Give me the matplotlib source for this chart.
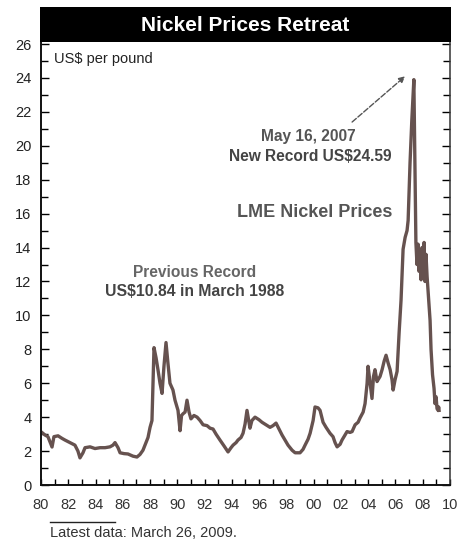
import matplotlib
matplotlib.use("Agg")
import matplotlib.pyplot as plt
from matplotlib.ticker import MultipleLocator, FixedLocator

plt.rcParams['font.family'] = ['Liberation Sans', 'DejaVu Sans']

# LME nickel price, US$ per pound (month-ish samples)
years = [
    1980.0, 1980.29, 1980.51, 1980.81, 1980.95, 1981.25, 1981.54, 1981.76, 1982.13, 1982.49,
    1982.71, 1982.86, 1983.08, 1983.23, 1983.6, 1983.96, 1984.33, 1984.7, 1985.06, 1985.28,
    1985.43, 1985.65, 1985.8, 1986.09, 1986.38, 1986.75, 1987.04, 1987.26, 1987.48, 1987.7,
    1987.85, 1988.0, 1988.14, 1988.22, 1988.29, 1988.44, 1988.58, 1988.73, 1988.88, 1989.02,
    1989.17, 1989.31, 1989.46, 1989.68, 1989.83, 1990.05, 1990.2, 1990.31, 1990.42, 1990.57,
    1990.71, 1990.86, 1991.0, 1991.22, 1991.45, 1991.67, 1991.89, 1992.18, 1992.4, 1992.62,
    1992.84, 1993.13, 1993.43, 1993.72, 1993.94, 1994.09, 1994.31, 1994.45, 1994.67, 1994.82,
    1994.97, 1995.11, 1995.33, 1995.47, 1995.7, 1995.99, 1996.21, 1996.51, 1996.8, 1997.02,
    1997.24, 1997.46, 1997.68, 1997.9, 1998.12, 1998.42, 1998.64, 1999.0, 1999.22, 1999.37,
    1999.59, 1999.74, 1999.96, 2000.1, 2000.32, 2000.47, 2000.69, 2000.91, 2001.2, 2001.42,
    2001.57, 2001.72, 2001.94, 2002.08, 2002.3, 2002.45, 2002.67, 2002.82, 2003.04, 2003.26,
    2003.4, 2003.63, 2003.77, 2003.92, 2003.99, 2004.14, 2004.28, 2004.39, 2004.5, 2004.65,
    2004.72, 2004.87, 2005.02, 2005.17, 2005.31, 2005.46, 2005.61, 2005.75, 2005.83, 2005.97,
    2006.12, 2006.27, 2006.41, 2006.56, 2006.71, 2006.85, 2006.93, 2007.07, 2007.2, 2007.35,
    2007.43, 2007.5, 2007.58, 2007.66, 2007.73, 2007.8, 2007.88, 2007.95, 2008.02, 2008.1,
    2008.17, 2008.24, 2008.32, 2008.39, 2008.54, 2008.61, 2008.72, 2008.83, 2008.9, 2008.98,
    2009.05, 2009.13, 2009.17, 2009.2,
]
prices = [
    3.14, 2.95, 2.85, 2.24, 2.85, 2.9, 2.75, 2.65, 2.5, 2.35,
    2.0, 1.6, 1.9, 2.2, 2.25, 2.15, 2.2, 2.2, 2.25, 2.35,
    2.5, 2.2, 1.9, 1.85, 1.83, 1.7, 1.65, 1.8, 2.05, 2.5,
    2.8, 3.4, 3.8, 6.0, 8.1, 7.5, 6.8, 6.0, 5.4, 7.0,
    8.4, 7.2, 6.0, 5.6, 5.0, 4.4, 3.2, 4.1, 4.2, 4.3,
    5.0, 4.3, 3.9, 4.1, 4.0, 3.8, 3.55, 3.5, 3.35, 3.3,
    3.0, 2.65, 2.3, 1.95, 2.2, 2.35, 2.5, 2.65, 2.8, 3.05,
    3.6, 4.4, 3.35, 3.8, 4.0, 3.85, 3.7, 3.55, 3.4, 3.5,
    3.65, 3.3, 2.95, 2.65, 2.35, 2.05, 1.9, 1.9, 2.1, 2.35,
    2.7, 3.05, 3.8, 4.6, 4.55, 4.4, 3.7, 3.4, 3.05, 2.85,
    2.5, 2.25, 2.4, 2.65, 2.95, 3.15, 3.1, 3.15, 3.55, 3.7,
    3.95, 4.3, 4.8, 6.0, 7.0, 6.0, 5.1, 6.4, 6.8, 6.1,
    6.2, 6.4, 6.8, 7.3, 7.65, 7.2, 6.8, 6.2, 5.6, 6.2,
    6.7, 9.0, 10.9, 13.9, 14.6, 15.0, 15.6, 19.0, 21.5, 23.9,
    19.0, 14.3, 13.0, 14.2, 12.6, 13.4, 12.1, 14.0, 13.0, 14.3,
    12.0, 13.6, 12.3, 11.5, 9.7, 8.0, 6.5, 5.7, 4.8, 5.2,
    4.5, 4.4, 4.6, 4.4,
]

x_tick_years = list(range(1980, 2011, 2))
x_tick_labels = [f"{y % 100:02d}" for y in x_tick_years]
y_tick_values = list(range(0, 27, 2))

fig = plt.figure(figsize=(4.58, 5.41), dpi=100)
fig.patch.set_facecolor("white")

ax = fig.add_axes([0.0895, 0.1035, 0.893, 0.8189])
ax.plot(years, prices, color="#66524f", lw=2.4, solid_joinstyle="round")

ax.set_xlim(1980, 2010)
ax.set_ylim(0, 26.12)

ax.xaxis.set_major_locator(FixedLocator(x_tick_years))
ax.xaxis.set_minor_locator(MultipleLocator(1))
ax.set_xticklabels(x_tick_labels)
ax.yaxis.set_major_locator(FixedLocator(y_tick_values))
ax.yaxis.set_minor_locator(MultipleLocator(1))

ax.tick_params(axis="x", which="both", direction="in", length=4, width=1,
               labelsize=10.5, labelcolor="#333333", pad=9, top=False)
ax.tick_params(axis="y", which="major", direction="in", length=6, width=1,
               labelsize=10.5, labelcolor="#222222", pad=7, right=True)
ax.tick_params(axis="y", which="minor", direction="in", length=5, width=1, right=True)

for side in ("left", "bottom"):
    ax.spines[side].set_linewidth(1.4)
    ax.spines[side].set_color("#111111")
ax.spines["right"].set_linewidth(1.1)
ax.spines["right"].set_color("#333333")
ax.spines["top"].set_visible(False)

# unit note
ax.text(0.033, 0.962, "US$ per pound", transform=ax.transAxes,
        fontsize=10.5, color="#222222", ha="left", va="center")

# record annotations
ax.text(1999.6, 20.52, "May 16, 2007", fontsize=11.2, fontweight="bold",
        color="#555555", ha="center", va="center")
ax.text(1999.75, 19.34, "New Record US$24.59", fontsize=11.2, fontweight="bold",
        color="#444444", ha="center", va="center")
ax.annotate("", xy=(2006.71, 24.1), xytext=(2002.82, 21.4),
            arrowprops=dict(arrowstyle="-|>", color="#555555", lw=1.0,
                            linestyle=(0, (4, 1.5)), mutation_scale=9,
                            shrinkA=0, shrinkB=0))

ax.text(2000.05, 16.04, "LME Nickel Prices", fontsize=13, fontweight="bold",
        color="#555555", ha="center", va="center")

ax.text(1991.3, 12.52, "Previous Record", fontsize=11.2, fontweight="bold",
        color="#666666", ha="center", va="center")
ax.text(1991.3, 11.4, "US$10.84 in March 1988", fontsize=11.3, fontweight="bold",
        color="#444444", ha="center", va="center")

# title bar
tax = fig.add_axes([0.0873, 0.9224, 0.8974, 0.0647])
tax.set_facecolor("black")
tax.set_xticks([])
tax.set_yticks([])
for s in tax.spines.values():
    s.set_visible(False)
tax.text(0.5, 0.47, "Nickel Prices Retreat", transform=tax.transAxes,
         fontsize=15, fontweight="bold", color="white", ha="center", va="center")

# footnote
fig.add_artist(plt.Line2D([50 / 458, 115 / 458], [1 - 522 / 541, 1 - 522 / 541],
                          color="#222222", lw=1.0))
fig.text(50 / 458, 1 - 533 / 541, "Latest data: March 26, 2009.", fontsize=10.5,
         color="#333333", ha="left", va="center")

fig.savefig("out.png", dpi=100, facecolor="white")
